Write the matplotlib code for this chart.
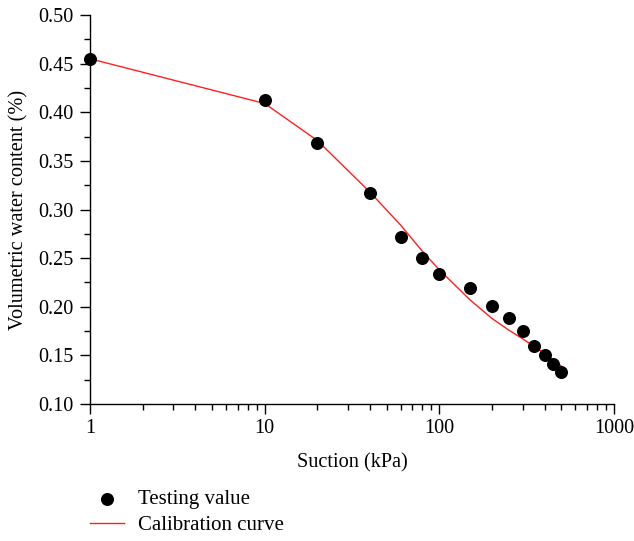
import numpy as np
import matplotlib
matplotlib.use("Agg")
import matplotlib.pyplot as plt
from matplotlib.ticker import LogLocator, MultipleLocator, NullFormatter, FixedLocator, FixedFormatter

plt.rcParams['font.family'] = ['Liberation Serif', 'DejaVu Serif']

# measured suction / water content
suction = [1, 10, 20, 40, 60, 80, 100, 150, 200, 250, 300, 350, 400, 450, 500]
theta_test = [0.455, 0.413, 0.368, 0.317, 0.272, 0.250, 0.234, 0.219, 0.201,
              0.188, 0.175, 0.160, 0.150, 0.141, 0.133]

# calibrated curve evaluated at the same suctions
theta_fit = [0.455, 0.409, 0.371, 0.318, 0.284, 0.257, 0.238, 0.207, 0.188,
             0.176, 0.167, 0.159, 0.152, 0.145, 0.139]

xticks = [1, 10, 100, 1000]
xtick_labels = ["1", "10", "100", "1000"]

FS = 14.6

fig = plt.figure(figsize=(6.34, 5.41), dpi=100)
ax = fig.add_axes([0.1419, 0.2532, 0.8266, 0.7191])

ax.plot(suction, theta_fit, color="#ff2020", lw=1.0, label="Calibration curve", zorder=2)
ax.scatter(suction, theta_test, s=70, color="black", label="Testing value", zorder=3,
           clip_on=False)

ax.set_xscale("log")
ax.set_xlim(1, 1000)
ax.set_ylim(0.10, 0.50)
ax.xaxis.set_major_locator(FixedLocator(xticks))
ax.xaxis.set_major_formatter(FixedFormatter(xtick_labels))
ax.xaxis.set_minor_locator(LogLocator(base=10, subs=np.arange(2, 10)))
ax.xaxis.set_minor_formatter(NullFormatter())
ax.yaxis.set_major_locator(MultipleLocator(0.05))
ax.yaxis.set_minor_locator(MultipleLocator(0.025))
ax.yaxis.set_major_formatter(plt.FuncFormatter(lambda v, p: f"{v:.2f}"))

for s in ["top", "right"]:
    ax.spines[s].set_visible(False)
for s in ["left", "bottom"]:
    ax.spines[s].set_linewidth(1.0)

ax.tick_params(which="major", direction="out", length=7, width=1.0, labelsize=FS)
ax.tick_params(axis="y", which="major", pad=5)
ax.tick_params(axis="x", which="major", pad=4)
ax.tick_params(which="minor", direction="out", length=4, width=1.0)

ax.set_xlabel("Suction (kPa)", fontsize=FS, labelpad=10.5)
ax.set_ylabel("Volumetric water content (%)", fontsize=FS, labelpad=7)

handles, labels = ax.get_legend_handles_labels()
fig.legend(handles[::-1], labels[::-1], loc="upper left", bbox_to_anchor=(0.142, 0.095),
           frameon=False, fontsize=15, handlelength=1.63, handletextpad=0.65,
           labelspacing=0.3, borderaxespad=0, borderpad=0)

fig.savefig("out.png", dpi=100)
